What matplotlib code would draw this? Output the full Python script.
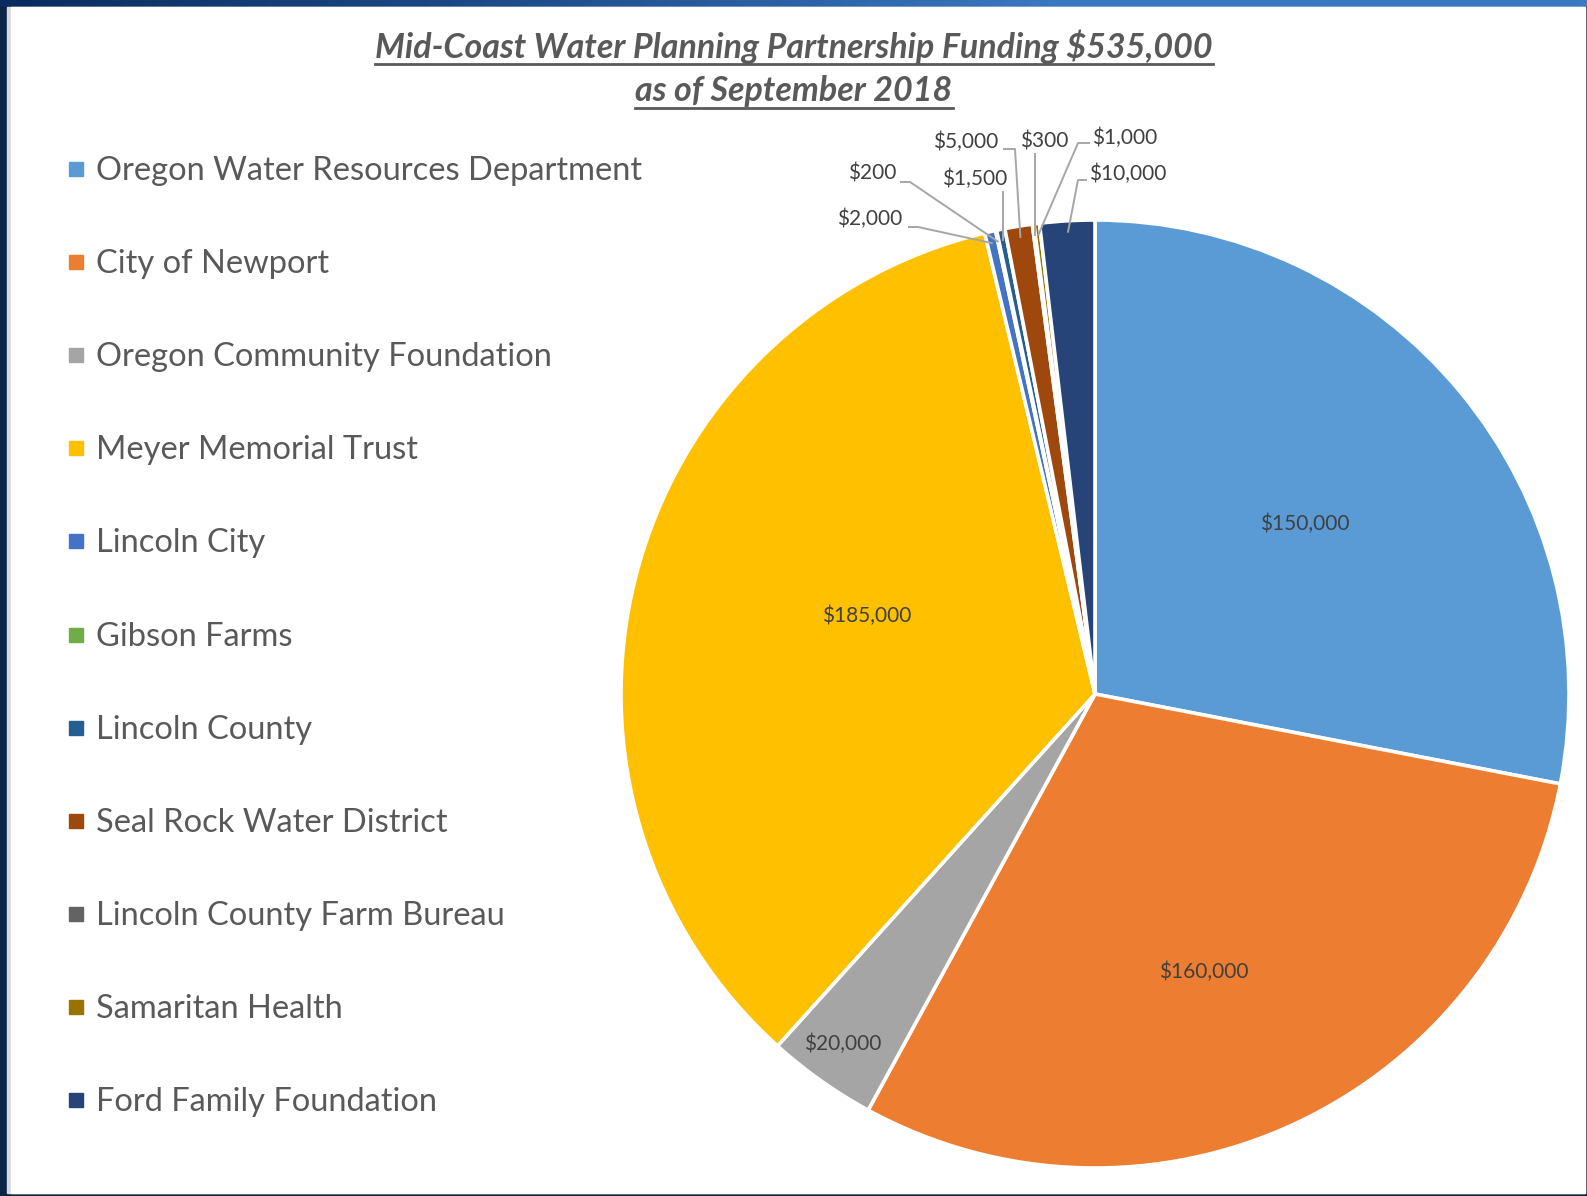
"""
Mid-Coast Water Planning Partnership funding pie chart
"""

import numpy as np
import matplotlib
matplotlib.use('Agg')
import matplotlib.pyplot as plt
from matplotlib.patches import Rectangle
from matplotlib.lines import Line2D

plt.rcParams['font.family'] = ['Lato', 'DejaVu Sans']

# data
funders = ['Oregon Water Resources Department', 'City of Newport',
           'Oregon Community Foundation', 'Meyer Memorial Trust',
           'Lincoln City', 'Gibson Farms', 'Lincoln County',
           'Seal Rock Water District', 'Lincoln County Farm Bureau',
           'Samaritan Health', 'Ford Family Foundation']
amounts = [150000, 160000, 20000, 185000, 2000, 200, 1500, 5000, 300, 1000, 10000]
colors = ['#5B9BD5', '#ED7D31', '#A5A5A5', '#FFC000', '#4472C4', '#70AD47',
          '#255E91', '#9E480E', '#636363', '#997300', '#264478']
title_lines = ['Mid-Coast Water Planning Partnership Funding $535,000',
               'as of September 2018']

W, H = 1587, 1196
CX, CY, R = 1095, 694, 474   # pie centre and radius, in pixels from top-left

TEXT = '#595959'
LABEL = '#404040'
LEADER = '#A6A6A6'


def money(v):
    return '${:,}'.format(v)


fig = plt.figure(figsize=(W / 100, H / 100), dpi=100)

# frame / background, pixel coords with y going down
bg = fig.add_axes([0, 0, 1, 1])
bg.set_xlim(0, W)
bg.set_ylim(H, 0)
bg.axis('off')
bg.add_patch(Rectangle((0, 0), W, H, color='#0B2545', zorder=0))
grad = np.linspace(0, 1, 256).reshape(1, -1)
top_cmap = matplotlib.colors.LinearSegmentedColormap.from_list(
    'top', ['#0A2C5E', '#1F4E8C', '#3A78C0', '#3B79C2'])
bg.imshow(grad, cmap=top_cmap, extent=[0, W, 7, 0], aspect='auto', zorder=1)
bg.add_patch(Rectangle((7, 7), W - 9, H - 10, color='#DADADA', zorder=2))
bg.add_patch(Rectangle((11, 7), W - 13, H - 10, color='white', zorder=3))

# title, bold italic and underlined
renderer = fig.canvas.get_renderer()
for i, line in enumerate(title_lines):
    y = 47 + i * 44
    t = bg.text(794, y, line, ha='center', va='center', fontsize=24.5,
                fontweight='bold', fontstyle='italic', color=TEXT, zorder=5)
    bb = t.get_window_extent(renderer)
    bg.add_line(Line2D([bb.x0, bb.x1], [y + 17, y + 17], color=TEXT, lw=2.0,
                       zorder=5))

# legend drawn by hand
for i, (name, col) in enumerate(zip(funders, colors)):
    y = 169 + i * 93.1
    bg.add_patch(Rectangle((69, y - 7), 14, 14, color=col, zorder=5))
    bg.text(96, y + 2, name, ha='left', va='center', fontsize=23.5, color=TEXT,
            zorder=5)

# pie
ax = fig.add_axes([(CX - R) / W, (H - CY - R) / H, 2 * R / W, 2 * R / H])
wedges, _ = ax.pie(amounts, colors=colors, startangle=90, counterclock=False,
                   wedgeprops=dict(edgecolor='white', linewidth=2.6))
ax.set_xlim(-1, 1)
ax.set_ylim(-1, 1)
ax.axis('off')


def mid_angle(w):
    return np.deg2rad((w.theta1 + w.theta2) / 2)


# labels inside the big slices: radius as a fraction of R, angle nudge in degrees
inside = {0: (0.57, -0.5), 1: (0.63, -3.9), 2: (0.91, -0.4), 3: (0.51, -4.6)}
for i, (r, nudge) in inside.items():
    a = mid_angle(wedges[i]) + np.deg2rad(nudge)
    ax.text(r * np.cos(a), r * np.sin(a), money(amounts[i]), ha='center',
            va='center', fontsize=15, color=LABEL)


def px(x, y):
    # pixel (from top-left) -> pie data coords
    return (x - CX) / R, (CY - y) / R


# small slices: label anchor (px), alignment, leader line start points (px)
outside = {
    4: ((902, 219), 'right', [(908, 227), (918, 227)]),
    5: ((896, 174), 'right', [(900, 182), (910, 182)]),
    6: ((975, 179), 'center', [(1001, 191)]),
    7: ((998, 142), 'right', [(1003, 149), (1015, 149)]),
    8: ((1044, 142), 'center', [(1033, 153)]),
    9: ((1092, 138), 'left', [(1090, 143), (1078, 143)]),
    10: ((1089, 174), 'left', [(1087, 180), (1078, 180)]),
}
for i, (pos, ha, pts) in outside.items():
    tx, ty = px(*pos)
    ax.text(tx, ty, money(amounts[i]), ha=ha, va='center', fontsize=15,
            color=LABEL, clip_on=False)
    a = mid_angle(wedges[i])
    xs = [px(*p)[0] for p in pts] + [0.975 * np.cos(a)]
    ys = [px(*p)[1] for p in pts] + [0.975 * np.sin(a)]
    if len(pts) == 1:
        xs[0] = xs[1]
    ax.plot(xs, ys, color=LEADER, lw=1.4, clip_on=False, solid_capstyle='butt')

fig.savefig('out.png', dpi=100)
